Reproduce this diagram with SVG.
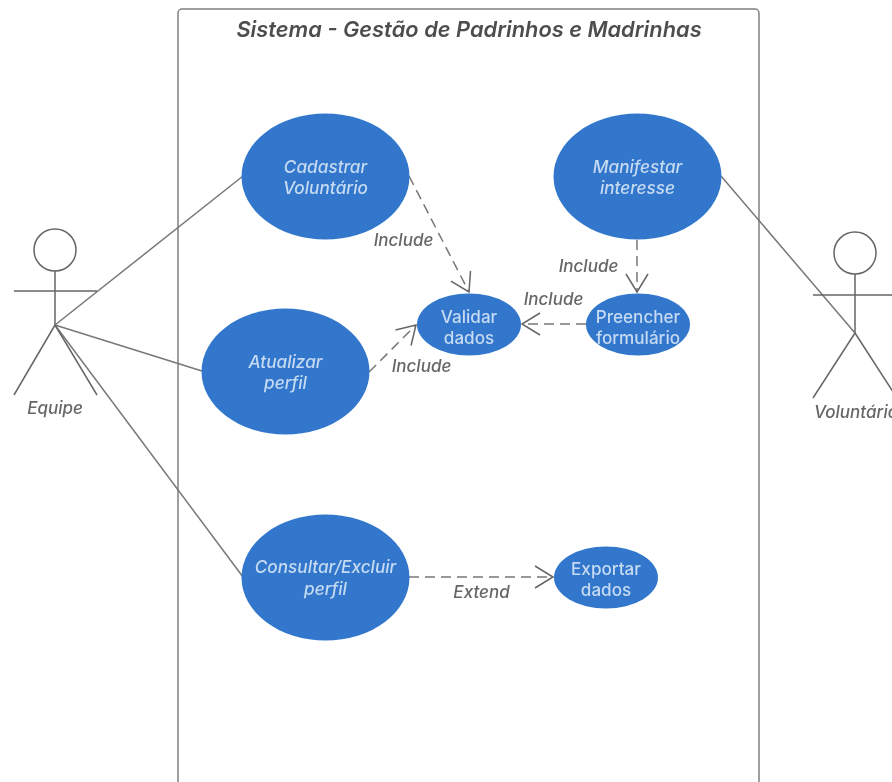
<svg xmlns="http://www.w3.org/2000/svg" width="892" height="782" viewBox="0 0 892 782">
<defs>
<marker id="open" markerUnits="userSpaceOnUse" markerWidth="24" markerHeight="24" refX="19" refY="12" orient="auto" overflow="visible"><path d="M1 1 L19 12 L1 23" fill="none" stroke="#666" stroke-width="1.5"/></marker>
<filter id="soft" x="0" y="0" width="892" height="782" filterUnits="userSpaceOnUse" primitiveUnits="userSpaceOnUse"><feGaussianBlur stdDeviation="0.7"/></filter>
</defs>
<style>
text{font-family:Inter,"Liberation Sans",sans-serif;font-style:italic;text-anchor:middle;font-weight:500}
.title{font-size:21.800px;font-weight:600;fill:#4d4d4d}
.uc{fill:#3077cc;stroke:none}
.a{fill:none;stroke:#666;stroke-width:1.500}
.l{fill:none;stroke:#777;stroke-width:1.500}
.d{fill:none;stroke:#777;stroke-width:1.500;stroke-dasharray:10 6;marker-end:url(#open)}
.ut{font-size:17.200px;fill:#c6daf2}
.un{font-size:17.100px;font-style:normal;fill:#c6daf2}
.lb{font-size:17px;fill:#666}
</style>
<rect width="892" height="782" fill="#fff"/>
<g filter="url(#soft)">
<g id="system">
<rect x="178" y="9" width="581" height="800" rx="4" fill="none" stroke="#808080" stroke-width="1.500"/>
<text class="title" x="469" y="36.500">Sistema - Gestão de Padrinhos e Madrinhas</text>
</g>
<g id="connectors">
<path class="l" d="M55 325 L243 176"/>
<path class="l" d="M55 325 L202 371"/>
<path class="l" d="M55 325 L243 577"/>
<path class="l" d="M721 176 L855 333"/>
<path class="d" d="M409 176 L469 292"/>
<path class="d" d="M369 372 L416 325"/>
<path class="d" d="M637 240 L637 292"/>
<path class="d" d="M586 324 L522 324"/>
<path class="d" d="M409 577 L553 577"/>
<text class="lb" x="403.500" y="246">Include</text>
<text class="lb" x="421.500" y="372">Include</text>
<text class="lb" x="588.500" y="272">Include</text>
<text class="lb" x="553.500" y="305">Include</text>
<text class="lb" x="481.500" y="598">Extend</text>
</g>
<g id="actor-equipe">
<circle class="a" cx="55" cy="250" r="21"/>
<path class="a" d="M55 271 V325 M14 291 H97 M55 325 L14 395 M55 325 L97 395"/>
<text class="lb" x="55" y="414">Equipe</text>
</g>
<g id="actor-voluntario">
<circle class="a" cx="855" cy="253" r="21"/>
<path class="a" d="M855 274 V333 M813 295 H897 M855 333 L813 398 M855 333 L897 398"/>
<text class="lb" x="856" y="418">Voluntário</text>
</g>
<g id="uc-cadastrar">
<ellipse class="uc" cx="325.500" cy="176.500" rx="84" ry="63"/>
<text class="ut" x="325.500" y="172.500">Cadastrar</text>
<text class="ut" x="325.500" y="193.500">Voluntário</text>
</g>
<g id="uc-manifestar">
<ellipse class="uc" cx="637.500" cy="176.500" rx="84" ry="63"/>
<text class="ut" x="637.500" y="172.500">Manifestar</text>
<text class="ut" x="637.500" y="193.500">interesse</text>
</g>
<g id="uc-atualizar">
<ellipse class="uc" cx="285.500" cy="371.500" rx="84" ry="63"/>
<text class="ut" x="285.500" y="367.500">Atualizar</text>
<text class="ut" x="285.500" y="388.500">perfil</text>
</g>
<g id="uc-consultar">
<ellipse class="uc" cx="325.500" cy="577.500" rx="84" ry="63"/>
<text class="ut" x="325.500" y="573">Consultar/Excluir</text>
<text class="ut" x="325.500" y="594.500">perfil</text>
</g>
<g id="uc-validar">
<ellipse class="uc" cx="469" cy="324.500" rx="52" ry="31"/>
<text class="un" x="469" y="322.500">Validar</text>
<text class="un" x="469" y="343.500">dados</text>
</g>
<g id="uc-preencher">
<ellipse class="uc" cx="638" cy="324.500" rx="52" ry="31"/>
<text class="un" x="638" y="322.500">Preencher</text>
<text class="un" x="638" y="343.500">formulário</text>
</g>
<g id="uc-exportar">
<ellipse class="uc" cx="606" cy="577.500" rx="52" ry="31"/>
<text class="un" x="606" y="575">Exportar</text>
<text class="un" x="606" y="596">dados</text>
</g>
</g>
</svg>
